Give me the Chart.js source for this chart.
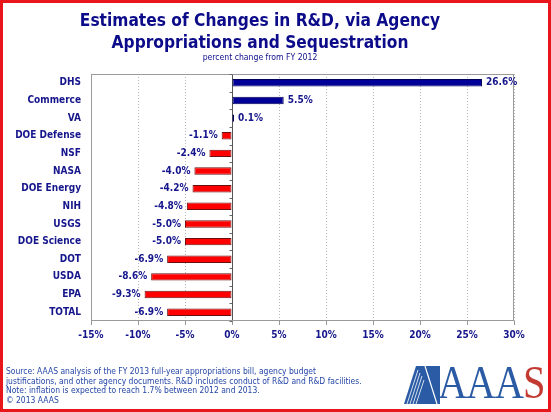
<!DOCTYPE html>
<html>
<head>
<meta charset="utf-8">
<script src="https://cdn.jsdelivr.net/npm/chart.js@4"></script>
<style>
  html, body { margin: 0; padding: 0; background: #fff; }
  #wrap { position: relative; width: 551px; height: 412px; overflow: hidden; }
  #frame { position: absolute; left: 0; top: 0; width: 551px; height: 412px; box-sizing: border-box; border: 3px solid #e8161b; pointer-events: none; }
  .t { position: absolute; left: 0; width: 520px; text-align: center; color: #0c0c8a; font-family: 'DejaVu Sans Condensed', 'DejaVu Sans', sans-serif; font-weight: bold; white-space: nowrap; }
  #title1, #title2 { font-size: 18px; line-height: 22px; transform: scaleX(0.955); transform-origin: 260px 0; }
  #title1 { top: 9px; }
  #title2 { top: 31px; }
  #subtitle { top: 51px; font-size: 8.6px; font-weight: normal; line-height: 12px; }
  #note { position: absolute; left: 6px; top: 367px; font-family: 'DejaVu Sans Condensed', 'DejaVu Sans', sans-serif; font-size: 9px; line-height: 9.6px; color: #2446a6; white-space: nowrap; transform: scaleX(0.94); transform-origin: left top; }
  #logo { position: absolute; left: 404px; top: 364px; width: 145px; height: 42px; }
  #logo svg { position: absolute; left: 0; top: 2px; }
  #logo .word { position: absolute; left: 34px; top: -5px; font-family: 'Liberation Serif', 'DejaVu Serif', serif; font-size: 46px; line-height: 48px; color: #2a5ba4; transform: scaleX(0.88); transform-origin: left top; letter-spacing: -1px; }
  #logo .word span { color: #c23a32; }
</style>
</head>
<body>
<div id="wrap">
  <canvas id="chart" width="551" height="412"></canvas>
  <div class="t" id="title1">Estimates of Changes in R&amp;D, via Agency</div>
  <div class="t" id="title2">Appropriations and Sequestration</div>
  <div class="t" id="subtitle">percent change from FY 2012</div>
  <div id="note">Source: AAAS analysis of the FY 2013 full-year appropriations bill, agency budget<br>justifications, and other agency documents. R&amp;D includes conduct of R&amp;D and R&amp;D facilities.<br>Note: inflation is expected to reach 1.7% between  2012 and 2013.<br>&copy; 2013 AAAS</div>
  <div id="logo">
    <svg width="40" height="38" viewBox="0 0 40 38">
      <polygon points="0,38 12,0 21,0 33,38" fill="#2a5ba4"/>
      <polygon points="21,0 36,0 36,38 33,38" fill="#2a5ba4"/>
      <line x1="3" y1="38" x2="14" y2="4" stroke="#fff" stroke-width="0.8"/>
      <line x1="6" y1="38" x2="16" y2="7" stroke="#fff" stroke-width="0.8"/>
      <line x1="9" y1="38" x2="18" y2="10" stroke="#fff" stroke-width="0.8"/>
      <line x1="12" y1="38" x2="20" y2="14" stroke="#fff" stroke-width="0.8"/>
      <line x1="21" y1="0" x2="33" y2="38" stroke="#fff" stroke-width="1.2"/>
    </svg>
    <div class="word">AAA<span>S</span></div>
  </div>
  <div id="frame"></div>
</div>
<script>
// agencies, top to bottom
var agencies = ['DHS', 'Commerce', 'VA', 'DOE Defense', 'NSF', 'NASA', 'DOE Energy',
  'NIH', 'USGS', 'DOE Science', 'DOT', 'USDA', 'EPA', 'TOTAL'];
// percent change from FY 2012
var changes = [26.6, 5.5, 0.1, -1.1, -2.4, -4.0, -4.2, -4.8, -5.0, -5.0, -6.9, -8.6, -9.3, -6.9];
// x axis range / step
var axisMin = -15, axisMax = 30, axisStep = 5;

var navy = '#15158c';

Chart.defaults.font.family = "'DejaVu Sans Condensed', 'DejaVu Sans', sans-serif";
Chart.defaults.font.size = 10;
Chart.defaults.font.weight = 'bold';
Chart.defaults.color = navy;

// value labels next to bar ends
var valueLabels = {
  id: 'valueLabels',
  afterDatasetsDraw: function(chart) {
    var ctx = chart.ctx;
    var meta = chart.getDatasetMeta(0);
    ctx.save();
    ctx.font = "bold 10px 'DejaVu Sans Condensed', 'DejaVu Sans', sans-serif";
    ctx.fillStyle = navy;
    ctx.textBaseline = 'middle';
    meta.data.forEach(function(bar, i) {
      var v = changes[i];
      var txt = v.toFixed(1) + '%';
      if (v >= 0) { ctx.textAlign = 'left'; ctx.fillText(txt, bar.x + 4, bar.y); }
      else { ctx.textAlign = 'right'; ctx.fillText(txt, bar.x - 4, bar.y); }
    });
    ctx.restore();
  }
};

// plot frame + small marks on the zero line
var plotFrame = {
  id: 'plotFrame',
  beforeDatasetsDraw: function(chart) {
    var ctx = chart.ctx, a = chart.chartArea;
    var xs = chart.scales.x, ys = chart.scales.y;
    ctx.save();
    ctx.strokeStyle = '#9a9a9a';
    ctx.lineWidth = 1;
    ctx.strokeRect(Math.round(a.left) + 0.5, Math.round(a.top) + 0.5,
      Math.round(a.right - a.left) - 1, Math.round(a.bottom - a.top) - 1);
    var zx = Math.round(xs.getPixelForValue(0)) + 0.5;
    ctx.strokeStyle = '#666';
    ctx.beginPath();
    for (var i = 0; i <= agencies.length; i++) {
      var y = Math.round(ys.getPixelForValue(i - 0.5)) + 0.5;
      ctx.moveTo(zx - 3, y);
      ctx.lineTo(zx, y);
    }
    ctx.stroke();
    ctx.restore();
  }
};

new Chart(document.getElementById('chart'), {
  type: 'bar',
  data: {
    labels: agencies,
    datasets: [{
      data: changes,
      backgroundColor: changes.map(function(v) { return v >= 0 ? '#000099' : '#ff0000'; }),
      borderColor: changes.map(function(v) { return v >= 0 ? '#00005a' : '#6a1010'; }),
      borderWidth: 1,
      borderSkipped: false,
      minBarLength: 2,
      barPercentage: 0.9,
      categoryPercentage: 0.47
    }]
  },
  options: {
    indexAxis: 'y',
    responsive: false,
    animation: false,
    layout: { padding: { left: 0, right: 37, top: 74, bottom: 69 } },
    plugins: { legend: { display: false }, tooltip: { enabled: false } },
    scales: {
      x: {
        min: axisMin, max: axisMax,
        afterFit: function(s) { s.height = 22; },
        ticks: { stepSize: axisStep, padding: 4, callback: function(v) { return v + '%'; } },
        grid: {
          color: function(c) { return c.tick && c.tick.value === 0 ? '#555' : '#b5b5b5'; },
          tickLength: 4, tickColor: '#999', tickBorderDash: []
        },
        border: { display: false, dash: function(c) { return c.tick && c.tick.value === 0 ? [] : [1, 2]; } }
      },
      y: {
        afterFit: function(s) { s.width = 91; },
        ticks: { padding: 10 },
        grid: { display: false, drawTicks: false },
        border: { display: false }
      }
    }
  },
  plugins: [plotFrame, valueLabels]
});
</script>
</body>
</html>
